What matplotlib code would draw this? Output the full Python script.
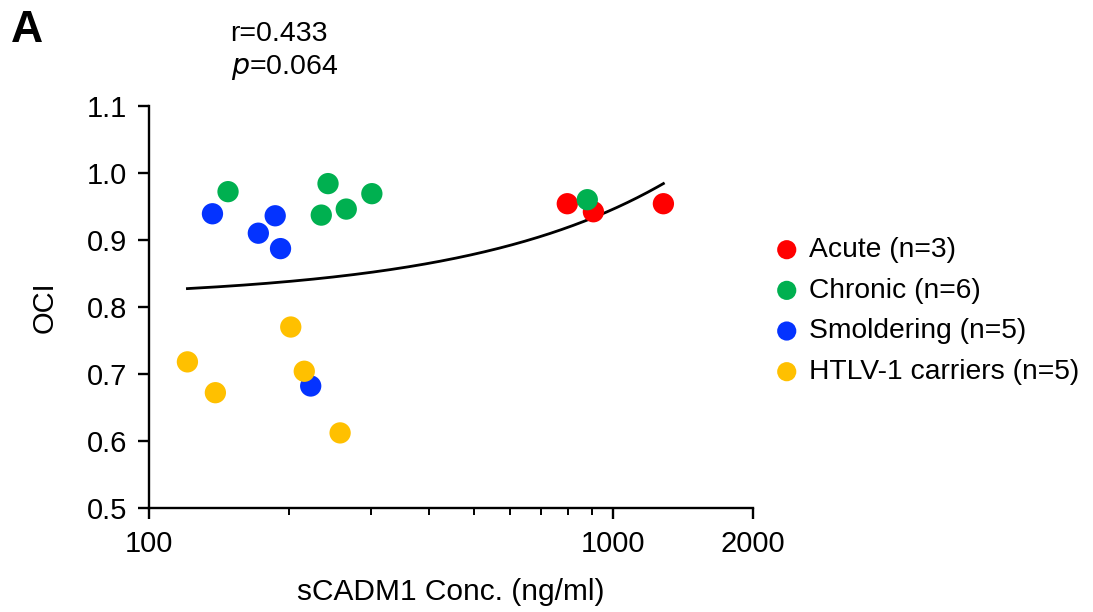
import numpy as np
import matplotlib
matplotlib.use("Agg")
import matplotlib.pyplot as plt
from matplotlib.ticker import FixedLocator, NullFormatter

plt.rcParams['font.family'] = ['Liberation Sans', 'DejaVu Sans']

# sCADM1 concentration (ng/ml) and OCI per patient group
acute_x = [796, 906, 1282]
acute_y = [0.954, 0.942, 0.954]
chronic_x = [148, 243, 302, 235, 266, 879]
chronic_y = [0.972, 0.984, 0.969, 0.937, 0.946, 0.960]
smold_x = [137, 187, 172, 192, 223]
smold_y = [0.939, 0.936, 0.910, 0.887, 0.682]
carrier_x = [121, 139, 202, 216, 258]
carrier_y = [0.718, 0.672, 0.770, 0.704, 0.612]

group_labels = ["Acute (n=3)", "Chronic (n=6)", "Smoldering (n=5)",
                "HTLV-1 carriers (n=5)"]
group_colors = ["#FF0000", "#00B050", "#0433FF", "#FFC000"]

# linear fit OCI = intercept + slope * conc
fit_intercept = 0.811
fit_slope = 1.35e-4
stat_r = "0.433"
stat_p = "0.064"

x_ticks = [100, 1000, 2000]
y_ticks = [0.5, 0.6, 0.7, 0.8, 0.9, 1.0, 1.1]

fig = plt.figure(figsize=(10.93, 6.12), dpi=100)
ax = fig.add_axes([0.1363, 0.170, 0.689 - 0.1363, 0.827 - 0.170])

groups = [(acute_x, acute_y), (chronic_x, chronic_y),
          (smold_x, smold_y), (carrier_x, carrier_y)]
for (gx, gy), lab, col in zip(groups, group_labels, group_colors):
    ax.scatter(gx, gy, s=235, color=col, edgecolors='none', label=lab,
               zorder=3)

all_x = acute_x + chronic_x + smold_x + carrier_x
xf = np.linspace(min(all_x), max(all_x), 300)
ax.plot(xf, fit_intercept + fit_slope * xf, color='black', lw=2.0, zorder=2)

ax.set_xscale('log')
ax.set_xlim(100, 2000)
ax.set_ylim(0.5, 1.1)
ax.xaxis.set_major_locator(FixedLocator(x_ticks))
ax.set_xticklabels([str(t) for t in x_ticks])
ax.xaxis.set_minor_locator(FixedLocator([200, 300, 400, 500, 600, 700, 800, 900]))
ax.xaxis.set_minor_formatter(NullFormatter())
ax.set_yticks(y_ticks)
ax.set_yticklabels([f"{t:.1f}" for t in y_ticks])

for s in ['top', 'right']:
    ax.spines[s].set_visible(False)
for s in ['left', 'bottom']:
    ax.spines[s].set_linewidth(1.7)
ax.tick_params(axis='both', which='major', direction='out', length=8,
               width=1.7, labelsize=21, pad=8)
ax.tick_params(axis='x', which='minor', direction='out', length=5, width=1.4)

ax.set_xlabel("sCADM1 Conc. (ng/ml)", fontsize=21.5, labelpad=14)
ax.set_ylabel("OCI", fontsize=21, labelpad=20)

ax.legend(loc='upper left', bbox_to_anchor=(0.694, 0.631),
          bbox_transform=fig.transFigure, frameon=False, fontsize=20.3,
          handletextpad=0.2, labelspacing=0.52, borderaxespad=0,
          markerscale=0.9, handlelength=1.2)

fig.text(0.211, 0.945, f"r={stat_r}", fontsize=20.5, va='center', ha='left')
fig.text(0.211, 0.890, f"$\\it{{p}}$={stat_p}", fontsize=20.5, va='center', ha='left')
fig.text(0.010, 0.950, "A", fontsize=32, fontweight='bold', va='center', ha='left')

fig.savefig("out.png", dpi=100)
